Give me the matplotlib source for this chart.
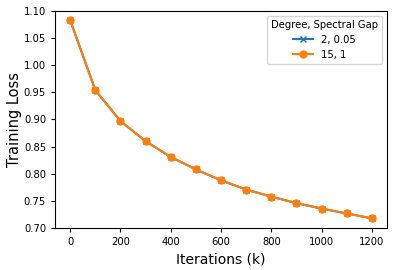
import matplotlib
matplotlib.use("Agg")
from matplotlib import pyplot as plt

iterations = [0, 100, 200, 300, 400, 500, 600, 700, 800, 900, 1000, 1100, 1200]
loss_deg2 = [1.083, 0.954, 0.897, 0.860, 0.831, 0.808, 0.788, 0.771, 0.758, 0.746, 0.736, 0.727, 0.718]
loss_deg15 = [1.083, 0.954, 0.897, 0.860, 0.831, 0.808, 0.788, 0.771, 0.758, 0.746, 0.736, 0.727, 0.718]

fig, ax = plt.subplots(figsize=(3.99, 2.70), dpi=100)
fig.subplots_adjust(left=0.138, right=0.97, top=0.96, bottom=0.155)

ax.plot(iterations, loss_deg2, marker='x', markersize=5, color='tab:blue', label='2, 0.05')
ax.plot(iterations, loss_deg15, marker='o', markersize=5, color='tab:orange', label='15, 1')

ax.set_ylim(0.70, 1.10)
ax.set_yticks([0.70, 0.75, 0.80, 0.85, 0.90, 0.95, 1.00, 1.05, 1.10])
ax.set_xticks([0, 200, 400, 600, 800, 1000, 1200])
ax.tick_params(labelsize=7.2, length=3)

ax.set_xlabel('Iterations (k)', fontsize=10)
ax.set_ylabel('Training Loss', fontsize=10.5, labelpad=1.5)
ax.legend(title='Degree, Spectral Gap', fontsize=7.2, title_fontsize=7.2, loc='upper right')

fig.savefig('out.png', dpi=100)
